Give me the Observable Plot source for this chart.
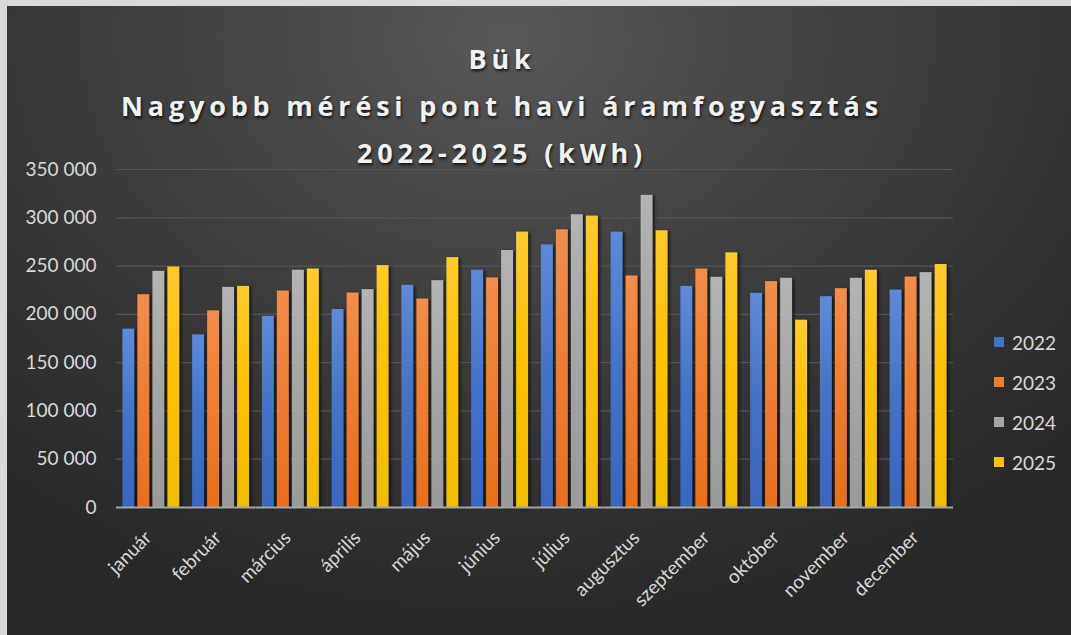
<!DOCTYPE html>
<html>
<head>
<meta charset="utf-8">
<script src="https://cdn.jsdelivr.net/npm/d3@7"></script>
<script src="https://cdn.jsdelivr.net/npm/@observablehq/plot@0.6"></script>
<style>
  html, body { margin: 0; padding: 0; background: #d9d9d9; }
  #frame {
    position: absolute; left: 7px; top: 6px; width: 1064px; height: 629px; overflow: hidden;
    background: radial-gradient(ellipse 75% 95% at 47% 5%, #585858 0%, #454545 35%, #333333 70%, #282828 100%);
    font-family: Lato, "Open Sans", sans-serif;
  }
  #title {
    position: absolute; left: 0; width: 990px; top: 29px; text-align: center;
    color: #f2f2f2; font-family: "Open Sans", sans-serif; font-weight: 700; font-size: 27px;
    line-height: 47px; letter-spacing: 4.8px;
    text-shadow: 1px 2px 3px rgba(0,0,0,0.75);
  }
  #legend { position: absolute; left: 987px; top: 316px; color: #d9d9d9; font-size: 19px; }
  #legend .item { height: 40px; display: flex; align-items: center; }
  #legend .sw { width: 10px; height: 10px; margin-right: 8px; }
  svg g[aria-label="bar"] rect { filter: drop-shadow(2px 1px 1.5px rgba(0,0,0,0.65)); }
</style>
</head>
<body>
<div id="frame">
  <div id="chart"></div>
  <div id="title"></div>
  <div id="legend"></div>
</div>
<script>
const titleLines = ["Bük", "Nagyobb mérési pont havi áramfogyasztás", "2022-2025 (kWh)"];
const months = ["január", "február", "március", "április", "május", "június", "július",
  "augusztus", "szeptember", "október", "november", "december"];
const years = ["2022", "2023", "2024", "2025"];
const values2022 = [184700, 178800, 197900, 205100, 230100, 245700, 272000, 285200, 229000, 221800, 218300, 225200];
const values2023 = [220400, 203700, 224200, 222100, 215900, 237700, 287600, 239800, 247000, 233900, 226600, 238700];
const values2024 = [244600, 228000, 245700, 225600, 234900, 266100, 303200, 323300, 238400, 237400, 237400, 243200];
const values2025 = [249100, 229000, 247000, 250500, 258800, 285200, 301800, 286600, 263700, 194000, 245700, 251600];
const yTicks = [0, 50000, 100000, 150000, 200000, 250000, 300000, 350000];
const baseColors = ["#4472c4", "#ed7d31", "#a5a5a5", "#ffc000"];
const topColors = ["#5f8ad8", "#f28d4c", "#b4b4b4", "#ffca2e"];
const bottomColors = ["#3a66bd", "#e66f1c", "#9a9a9a", "#f0bd00"];

const series = [values2022, values2023, values2024, values2025];
const data = [];
months.forEach((m, i) => years.forEach((y, j) => data.push({month: m, year: y, value: series[j][i]})));

const fmt = d => d3.format(",")(d).replace(/,/g, "\u00a0");

const plot = Plot.plot({
  width: 1064,
  height: 629,
  marginLeft: 109,
  marginRight: 118,
  marginTop: 163,
  marginBottom: 128,
  style: {background: "transparent", fontFamily: "Lato, 'Open Sans', sans-serif", color: "#d9d9d9"},
  fx: {domain: months, padding: 0, round: false, label: null},
  x: {domain: years, paddingInner: 0.2, paddingOuter: 0.425, round: false, axis: null},
  y: {domain: [0, 350000], label: null},
  color: {type: "ordinal", domain: years, range: years.map((y, i) => `url(#grad${i})`)},
  marks: [
    Plot.ruleY(yTicks.slice(1), {stroke: "#565656", strokeWidth: 1.2}),
    Plot.barY(data, {fx: "month", x: "year", y: "value", fill: "year"}),
    Plot.ruleY([0], {stroke: "#a6a6a6", strokeWidth: 2}),
    Plot.axisY({ticks: yTicks, tickSize: 0, tickPadding: 20, tickFormat: fmt, fontSize: 19, fill: "#d9d9d9", label: null}),
    Plot.axisFx({anchor: "bottom", tickRotate: -45, tickSize: 0, tickPadding: 14, dx: -3, dy: 13, fontSize: 19, fill: "#d9d9d9", label: null})
  ]
});

const defs = years.map((y, i) => `<linearGradient id="grad${i}" x1="0" y1="0" x2="0" y2="1">
  <stop offset="0" stop-color="${topColors[i]}"/><stop offset="0.5" stop-color="${baseColors[i]}"/><stop offset="1" stop-color="${bottomColors[i]}"/>
</linearGradient>`).join("");
plot.insertAdjacentHTML("afterbegin", `<defs>${defs}</defs>`);
document.getElementById("chart").appendChild(plot);

document.getElementById("title").innerHTML = titleLines.map(t => `<div>${t}</div>`).join("");
document.getElementById("legend").innerHTML = years.map((y, i) =>
  `<div class="item"><div class="sw" style="background:${baseColors[i]}"></div><span>${y}</span></div>`).join("");
</script>
</body>
</html>
